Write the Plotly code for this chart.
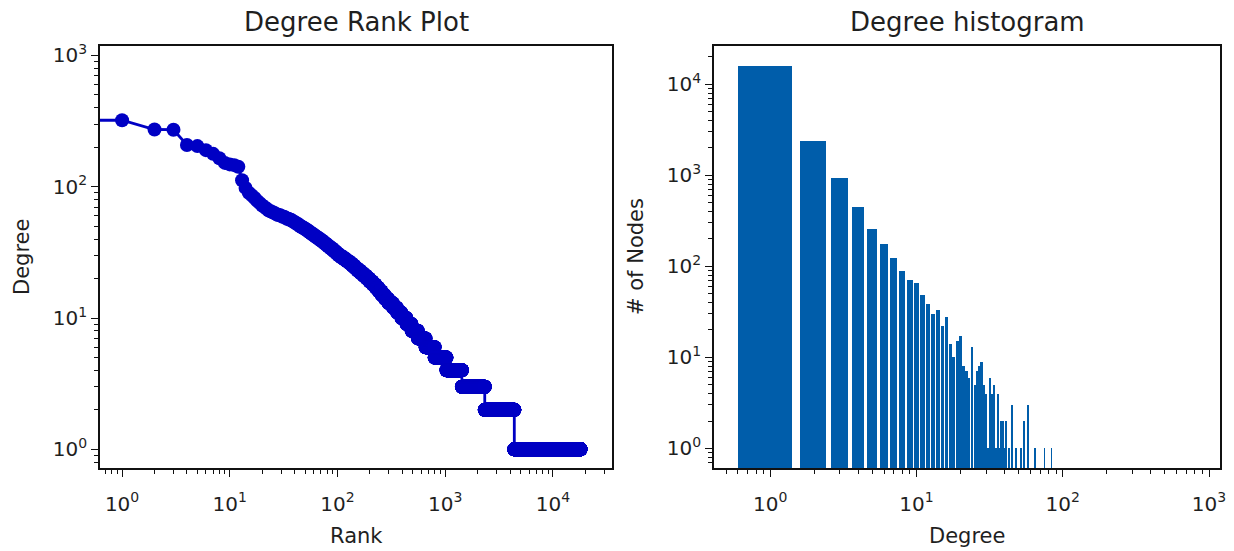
import numpy as np
import plotly.graph_objects as go

# ---------------- data ----------------
# Degree rank plot: distinct degree values (descending) and number of nodes having each
rank_degree_values = [340, 321, 273, 272, 208, 204, 190, 178, 165, 152, 148, 146, 142, 112, 98, 90, 86, 82, 78, 75, 72,
                      70, 68, 66, 65, 64, 63, 62, 61, 60, 59, 58, 57, 56, 55, 54, 53, 52, 51, 50, 49, 48, 47, 46, 45,
                      44, 43, 42, 41, 40, 39, 38, 37, 36, 35, 34, 33, 32, 31, 30, 29, 28, 27, 26, 25, 24, 23, 22, 21,
                      20, 19, 18, 17, 16, 15, 14, 13, 12, 11, 10, 9, 8, 7, 6, 5, 4, 3, 2, 1]
rank_degree_counts = [1, 1, 1, 1, 1, 1, 1, 1, 1, 1, 1, 1, 1, 1, 1, 1, 1, 1, 1, 1, 1,
                      1, 1, 1, 1, 1, 1, 1, 2, 1, 2, 1, 2, 2, 1, 2, 1, 2, 1, 2, 2, 2, 2, 2, 2,
                      2, 3, 2, 3, 3, 3, 3, 3, 3, 4, 4, 4, 4, 4, 6, 7, 7, 8, 7, 8, 8, 10, 11, 12,
                      12, 14, 14, 15, 16, 18, 22, 30, 30, 35, 45, 50, 70, 100, 140, 230, 400, 900, 2050, 13600]

# Degree histogram
hist_degree = [1, 2, 3, 4, 5, 6, 7, 8, 9, 10, 11, 12, 13, 14, 15, 16, 17, 18, 19, 20,
               21, 22, 23, 24, 25, 26, 27, 28, 29, 30, 31, 32, 33, 34, 35, 36, 37, 38, 39, 40,
               41, 43, 45, 48, 52, 54, 58, 65, 75, 84]
hist_count = [16000, 2400, 930, 450, 260, 175, 125, 90, 70, 66, 48, 39, 30, 33, 22, 28, 14, 10, 15, 17,
              8, 7, 6, 13, 5, 7, 8, 9, 5, 4, 1, 6, 4, 5, 1, 4, 1, 2, 2, 1,
              2, 1, 3, 1, 1, 2, 3, 1, 1, 1]

rank_ticks = [1, 10, 100, 1000, 10000]
rank_ticktext = ["10<sup>0</sup>", "10<sup>1</sup>", "10<sup>2</sup>", "10<sup>3</sup>", "10<sup>4</sup>"]
degree_ticks = [1, 10, 100, 1000]
degree_ticktext = ["10<sup>0</sup>", "10<sup>1</sup>", "10<sup>2</sup>", "10<sup>3</sup>"]
node_ticks = [1, 10, 100, 1000, 10000]
node_ticktext = ["10<sup>0</sup>", "10<sup>1</sup>", "10<sup>2</sup>", "10<sup>3</sup>", "10<sup>4</sup>"]

# ---------------- derived ----------------
degree_sequence = np.repeat(np.array(rank_degree_values), np.array(rank_degree_counts))
idx = np.arange(len(degree_sequence), dtype=float)
# like matplotlib's log scale, non-positive x is clipped to a tiny positive value
rank_x = np.where(idx > 0, idx, 1e-30)


def minor_vals(lo, hi):
    out = []
    for e in range(lo, hi + 1):
        for m in range(2, 10):
            out.append(m * 10.0 ** e)
    return out


# page has an 8px body margin; figure sized to fit the 1234x551 window
OFF = 8
WF, HF = 1234 - OFF, 551 - OFF


def fx(p):
    return (p - OFF) / WF


def fy(p):
    return 1 - (p - OFF) / HF


L1, R1 = 100, 612
L2, R2 = 714, 1220
TOP, BOT = 46, 468

FONT = "DejaVu Sans"
TXT = "#1f1f1f"
AX = "#111111"
BLUE_LINE = "#0000C4"
BLUE_BAR = "#005DAA"

fig = go.Figure()

fig.add_trace(go.Scatter(
    x=rank_x, y=degree_sequence, mode="lines+markers",
    line=dict(color=BLUE_LINE, width=2.8),
    marker=dict(color=BLUE_LINE, size=14, line=dict(width=0)),
    xaxis="x", yaxis="y", showlegend=False, hoverinfo="skip",
))

fig.add_trace(go.Bar(
    x=hist_degree, y=hist_count, width=0.8,
    marker=dict(color=BLUE_BAR, line=dict(width=0)),
    xaxis="x2", yaxis="y2", showlegend=False, hoverinfo="skip",
))

axis_common = dict(
    type="log", showgrid=False, zeroline=False, showline=True, mirror=True,
    linecolor=AX, linewidth=1.6, ticks="outside", ticklen=7, tickwidth=1.3,
    tickcolor=AX, tickmode="array",
    tickfont=dict(family=FONT, size=20, color=TXT), automargin=False,
)
minor_common = dict(ticks="outside", ticklen=4, tickwidth=1, tickcolor=AX)

fig.update_layout(
    width=WF, height=HF,
    margin=dict(l=0, r=0, t=0, b=0),
    paper_bgcolor="white", plot_bgcolor="white",
    bargap=0,
    xaxis=dict(axis_common, domain=[fx(L1), fx(R1)], range=[-0.205, 4.548], anchor="y",
               tickvals=rank_ticks, ticktext=rank_ticktext, ticklabelstandoff=10,
               minor=dict(minor_common, tickvals=minor_vals(-1, 4))),
    yaxis=dict(axis_common, domain=[fy(BOT), fy(TOP)], range=[-0.142, 3.072], anchor="x",
               tickvals=[1, 10, 100, 1000], ticktext=degree_ticktext,
               minor=dict(minor_common, tickvals=minor_vals(-1, 3))),
    xaxis2=dict(axis_common, domain=[fx(L2), fx(R2)], range=[-0.384, 3.075], anchor="y2",
                tickvals=degree_ticks, ticktext=degree_ticktext, ticklabelstandoff=10,
                minor=dict(minor_common, tickvals=minor_vals(-1, 3))),
    yaxis2=dict(axis_common, domain=[fy(BOT), fy(TOP)], range=[-0.215, 4.42], anchor="x2",
                tickvals=node_ticks, ticktext=node_ticktext,
                minor=dict(minor_common, tickvals=minor_vals(-1, 4))),
)

ymid = (TOP + BOT) / 2
ann = [
    dict(text="Degree Rank Plot", x=(L1 + R1) / 2, y=22, size=26),
    dict(text="Degree histogram", x=(L2 + R2) / 2, y=22, size=26),
    dict(text="Rank", x=(L1 + R1) / 2, y=536, size=21),
    dict(text="Degree", x=(L2 + R2) / 2, y=536, size=21),
    dict(text="Degree", x=22, y=ymid, size=21, angle=-90),
    dict(text="# of Nodes", x=636, y=ymid, size=21, angle=-90),
]
for a in ann:
    fig.add_annotation(text=a["text"], xref="paper", yref="paper", x=fx(a["x"]), y=fy(a["y"]),
                       xanchor="center", yanchor="middle", showarrow=False,
                       textangle=a.get("angle", 0),
                       font=dict(family=FONT, size=a["size"], color=TXT))

fig.write_html("out.html")
